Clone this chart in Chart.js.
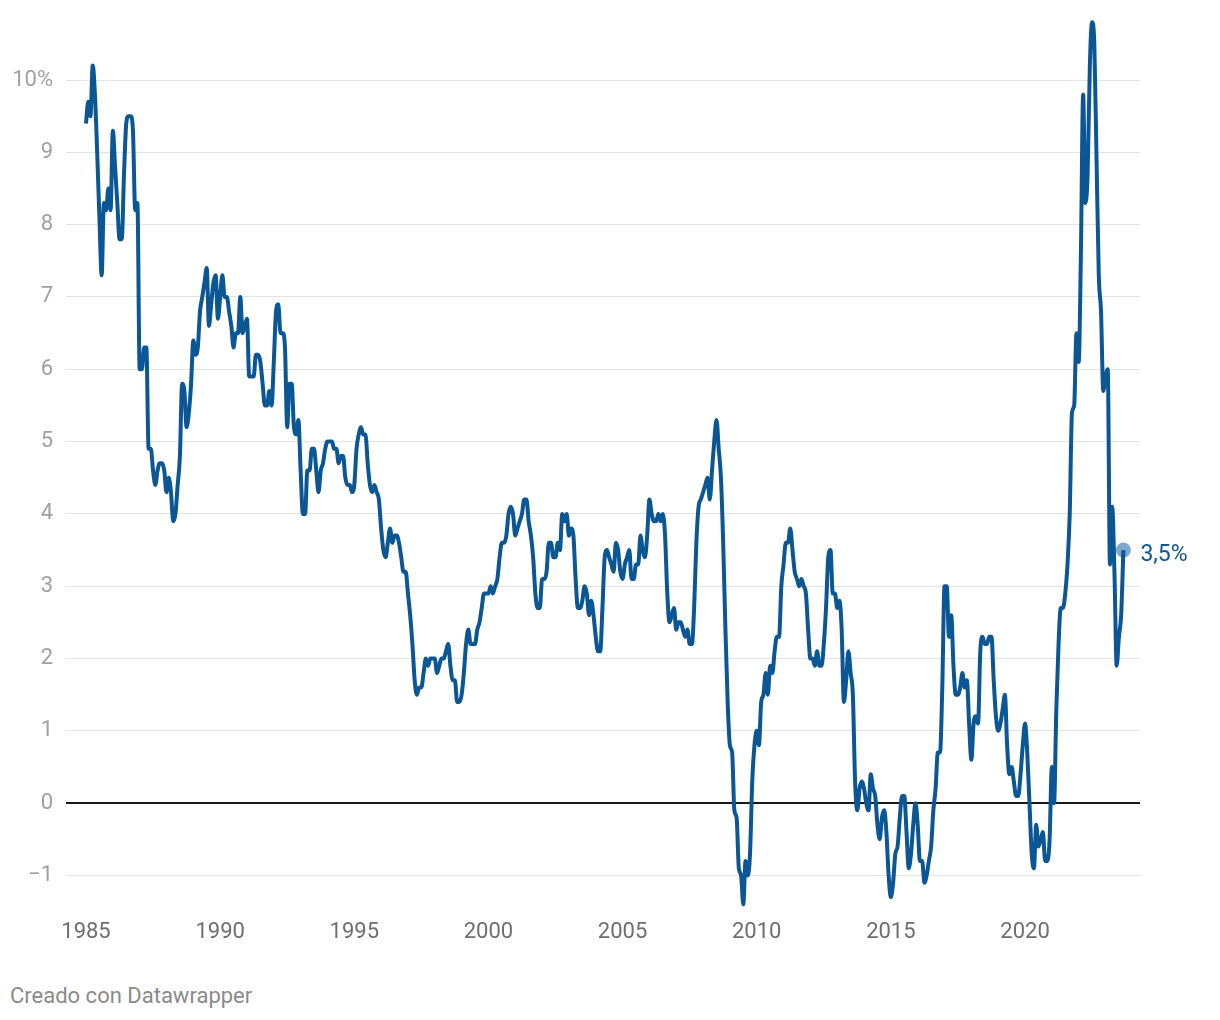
<!DOCTYPE html>
<html lang="es">
<head>
<meta charset="utf-8">
<title>IPC España</title>
<script src="https://cdn.jsdelivr.net/npm/chart.js@4.4.1/dist/chart.umd.min.js"></script>
<style>
  html, body { margin: 0; padding: 0; background: #fff; }
  body { width: 1220px; height: 1020px; position: relative; font-family: Roboto, sans-serif; }
  #wrap { position: absolute; left: 0; top: 0; width: 1220px; height: 960px; }
  #fuente { position: absolute; left: 10px; top: 983px; font-size: 22px; color: #8a8a8a; }
</style>
</head>
<body>
<div id="wrap"><canvas id="grafico"></canvas></div>
<div id="fuente">Creado con Datawrapper</div>
<script>
// Variación anual del IPC, mensual, desde enero 1985
const anioInicio = 1985;
const ipc = [
    9.4, 9.7, 9.5, 10.2, 9.8, 9.0, 8.1, 7.3, 8.3, 8.2, 8.5, 8.2,   // 1985
    9.3, 8.8, 8.3, 7.8, 7.8, 8.7, 9.4, 9.5, 9.5, 9.3, 8.2, 8.3,    // 1986
    6.0, 6.0, 6.3, 6.3, 4.9, 4.9, 4.6, 4.4, 4.6, 4.7, 4.7, 4.6,    // 1987
    4.3, 4.5, 4.3, 3.9, 4.0, 4.4, 4.8, 5.8, 5.7, 5.2, 5.4, 5.8,    // 1988
    6.4, 6.2, 6.3, 6.8, 7.0, 7.2, 7.4, 6.6, 6.9, 7.2, 7.3, 6.7,    // 1989
    7.0, 7.3, 7.0, 7.0, 6.8, 6.6, 6.3, 6.5, 6.5, 7.0, 6.5, 6.6,    // 1990
    6.7, 5.9, 5.9, 5.9, 6.2, 6.2, 6.1, 5.8, 5.5, 5.5, 5.7, 5.5,    // 1991
    6.1, 6.8, 6.9, 6.5, 6.5, 6.3, 5.2, 5.8, 5.8, 5.2, 5.1, 5.3,    // 1992
    4.6, 4.0, 4.0, 4.6, 4.6, 4.9, 4.9, 4.6, 4.3, 4.6, 4.7, 4.9,    // 1993
    5.0, 5.0, 5.0, 4.9, 4.9, 4.7, 4.8, 4.8, 4.5, 4.4, 4.4, 4.3,    // 1994
    4.4, 4.9, 5.1, 5.2, 5.1, 5.1, 4.7, 4.4, 4.3, 4.4, 4.3, 4.2,    // 1995
    3.8, 3.5, 3.4, 3.6, 3.8, 3.6, 3.7, 3.7, 3.6, 3.4, 3.2, 3.2,    // 1996
    2.9, 2.6, 2.2, 1.7, 1.5, 1.6, 1.6, 1.8, 2.0, 1.9, 2.0, 2.0,    // 1997
    2.0, 1.8, 1.9, 2.0, 2.0, 2.1, 2.2, 1.9, 1.7, 1.7, 1.4, 1.4,    // 1998
    1.5, 1.8, 2.2, 2.4, 2.2, 2.2, 2.2, 2.4, 2.5, 2.7, 2.9, 2.9,    // 1999
    2.9, 3.0, 2.9, 3.0, 3.1, 3.4, 3.6, 3.6, 3.7, 4.0, 4.1, 4.0,    // 2000
    3.7, 3.8, 3.9, 4.0, 4.2, 4.2, 3.9, 3.7, 3.4, 2.9, 2.7, 2.7,    // 2001
    3.1, 3.1, 3.2, 3.6, 3.6, 3.4, 3.4, 3.6, 3.5, 4.0, 3.9, 4.0,    // 2002
    3.7, 3.8, 3.7, 3.1, 2.7, 2.7, 2.8, 3.0, 2.9, 2.6, 2.8, 2.6,    // 2003
    2.3, 2.1, 2.1, 2.7, 3.4, 3.5, 3.4, 3.3, 3.2, 3.6, 3.5, 3.2,    // 2004
    3.1, 3.3, 3.4, 3.5, 3.1, 3.1, 3.3, 3.3, 3.7, 3.5, 3.4, 3.7,    // 2005
    4.2, 4.0, 3.9, 3.9, 4.0, 3.9, 4.0, 3.7, 2.9, 2.5, 2.6, 2.7,    // 2006
    2.4, 2.5, 2.5, 2.4, 2.3, 2.4, 2.2, 2.2, 2.7, 3.6, 4.1, 4.2,    // 2007
    4.3, 4.4, 4.5, 4.2, 4.6, 5.0, 5.3, 4.9, 4.5, 3.6, 2.4, 1.4,    // 2008
    0.8, 0.7, -0.1, -0.2, -0.9, -1.0, -1.4, -0.8, -1.0, -0.7, 0.3, 0.8, // 2009
    1.0, 0.8, 1.4, 1.5, 1.8, 1.5, 1.9, 1.8, 2.1, 2.3, 2.3, 3.0,    // 2010
    3.3, 3.6, 3.6, 3.8, 3.5, 3.2, 3.1, 3.0, 3.1, 3.0, 2.9, 2.4,    // 2011
    2.0, 2.0, 1.9, 2.1, 1.9, 1.9, 2.2, 2.7, 3.4, 3.5, 2.9, 2.9,    // 2012
    2.7, 2.8, 2.4, 1.4, 1.7, 2.1, 1.8, 1.5, 0.3, -0.1, 0.2, 0.3,   // 2013
    0.2, 0.0, -0.1, 0.4, 0.2, 0.1, -0.3, -0.5, -0.2, -0.1, -0.4, -1.0, // 2014
    -1.3, -1.1, -0.7, -0.6, -0.2, 0.1, 0.1, -0.4, -0.9, -0.7, -0.3, 0.0, // 2015
    -0.3, -0.8, -0.8, -1.1, -1.0, -0.8, -0.6, -0.1, 0.2, 0.7, 0.7, 1.6, // 2016
    3.0, 3.0, 2.3, 2.6, 1.9, 1.5, 1.5, 1.6, 1.8, 1.6, 1.7, 1.1,    // 2017
    0.6, 1.1, 1.2, 1.1, 2.1, 2.3, 2.2, 2.2, 2.3, 2.3, 1.7, 1.2,    // 2018
    1.0, 1.1, 1.3, 1.5, 0.8, 0.4, 0.5, 0.3, 0.1, 0.1, 0.4, 0.8,    // 2019
    1.1, 0.7, 0.0, -0.7, -0.9, -0.3, -0.6, -0.5, -0.4, -0.8, -0.8, -0.5, // 2020
    0.5, 0.0, 1.3, 2.2, 2.7, 2.7, 2.9, 3.3, 4.0, 5.4, 5.5, 6.5,    // 2021
    6.1, 7.6, 9.8, 8.3, 8.7, 10.2, 10.8, 10.5, 8.9, 7.3, 6.8, 5.7, // 2022
    5.9, 6.0, 3.3, 4.1, 3.2, 1.9, 2.3, 2.6, 3.5                    // 2023
];
const etiquetasX = [1985, 1990, 1995, 2000, 2005, 2010, 2015, 2020];
const ticksY = [-1, 0, 1, 2, 3, 4, 5, 6, 7, 8, 9, 10];

const azul = '#0b5694';
const puntos = ipc.map((v, i) => ({ x: anioInicio + i / 12, y: v }));
const ultimo = puntos[puntos.length - 1];
const textoFinal = ultimo.y.toLocaleString('es-ES', { minimumFractionDigits: 1 }) + '%';

// etiqueta del último valor, a la derecha del punto
const etiquetaFinal = {
    id: 'etiquetaFinal',
    afterDatasetsDraw(chart) {
        const p = chart.getDatasetMeta(1).data[0];
        const ctx = chart.ctx;
        ctx.save();
        ctx.font = '23px Roboto';
        ctx.fillStyle = azul;
        ctx.textBaseline = 'middle';
        ctx.fillText(textoFinal, p.x + 17, p.y + 5);
        ctx.restore();
    }
};

Chart.defaults.font.family = 'Roboto';

new Chart(document.getElementById('grafico'), {
    type: 'line',
    data: {
        datasets: [{
            data: puntos,
            borderColor: azul,
            borderWidth: 4,
            pointRadius: 0,
            cubicInterpolationMode: 'monotone',
            clip: false,
            order: 1
        }, {
            data: [ultimo],
            pointRadius: 7.5,
            pointBackgroundColor: '#7ea7cd',
            pointBorderWidth: 0,
            showLine: false,
            order: 2
        }]
    },
    options: {
        responsive: true,
        maintainAspectRatio: false,
        animation: false,
        layout: { padding: { left: 10, right: 80, top: 15, bottom: 6 } },
        plugins: { legend: { display: false }, tooltip: { enabled: false } },
        scales: {
            x: {
                type: 'linear',
                min: 1984.2545,
                max: 2024.286,
                afterBuildTicks: (scale) => { scale.ticks = etiquetasX.map(v => ({ value: v })); },
                grid: { display: false, drawTicks: false },
                border: { display: false },
                ticks: {
                    autoSkip: false,
                    maxRotation: 0,
                    padding: 8,
                    color: '#6e6e6e',
                    font: { size: 22 },
                    callback: (v) => String(v)
                }
            },
            y: {
                min: -1.5,
                max: 10.9,
                afterBuildTicks: (scale) => { scale.ticks = ticksY.map(v => ({ value: v })); },
                afterFit: (scale) => {
                    scale.width = 56;
                    scale.paddingTop = 0;
                    scale.paddingBottom = 0;
                },
                grid: {
                    drawTicks: false,
                    color: (c) => c.tick && c.tick.value === 0 ? '#1a1a1a' : '#e3e3e3',
                    lineWidth: (c) => c.tick && c.tick.value === 0 ? 2 : 1
                },
                border: { display: false },
                ticks: {
                    padding: 13,
                    color: '#a0a0a0',
                    font: { size: 22 },
                    callback: (v) => v === 10 ? '10%' : (v < 0 ? '\u2212' + Math.abs(v) : String(v))
                }
            }
        }
    },
    plugins: [etiquetaFinal]
});
</script>
</body>
</html>
